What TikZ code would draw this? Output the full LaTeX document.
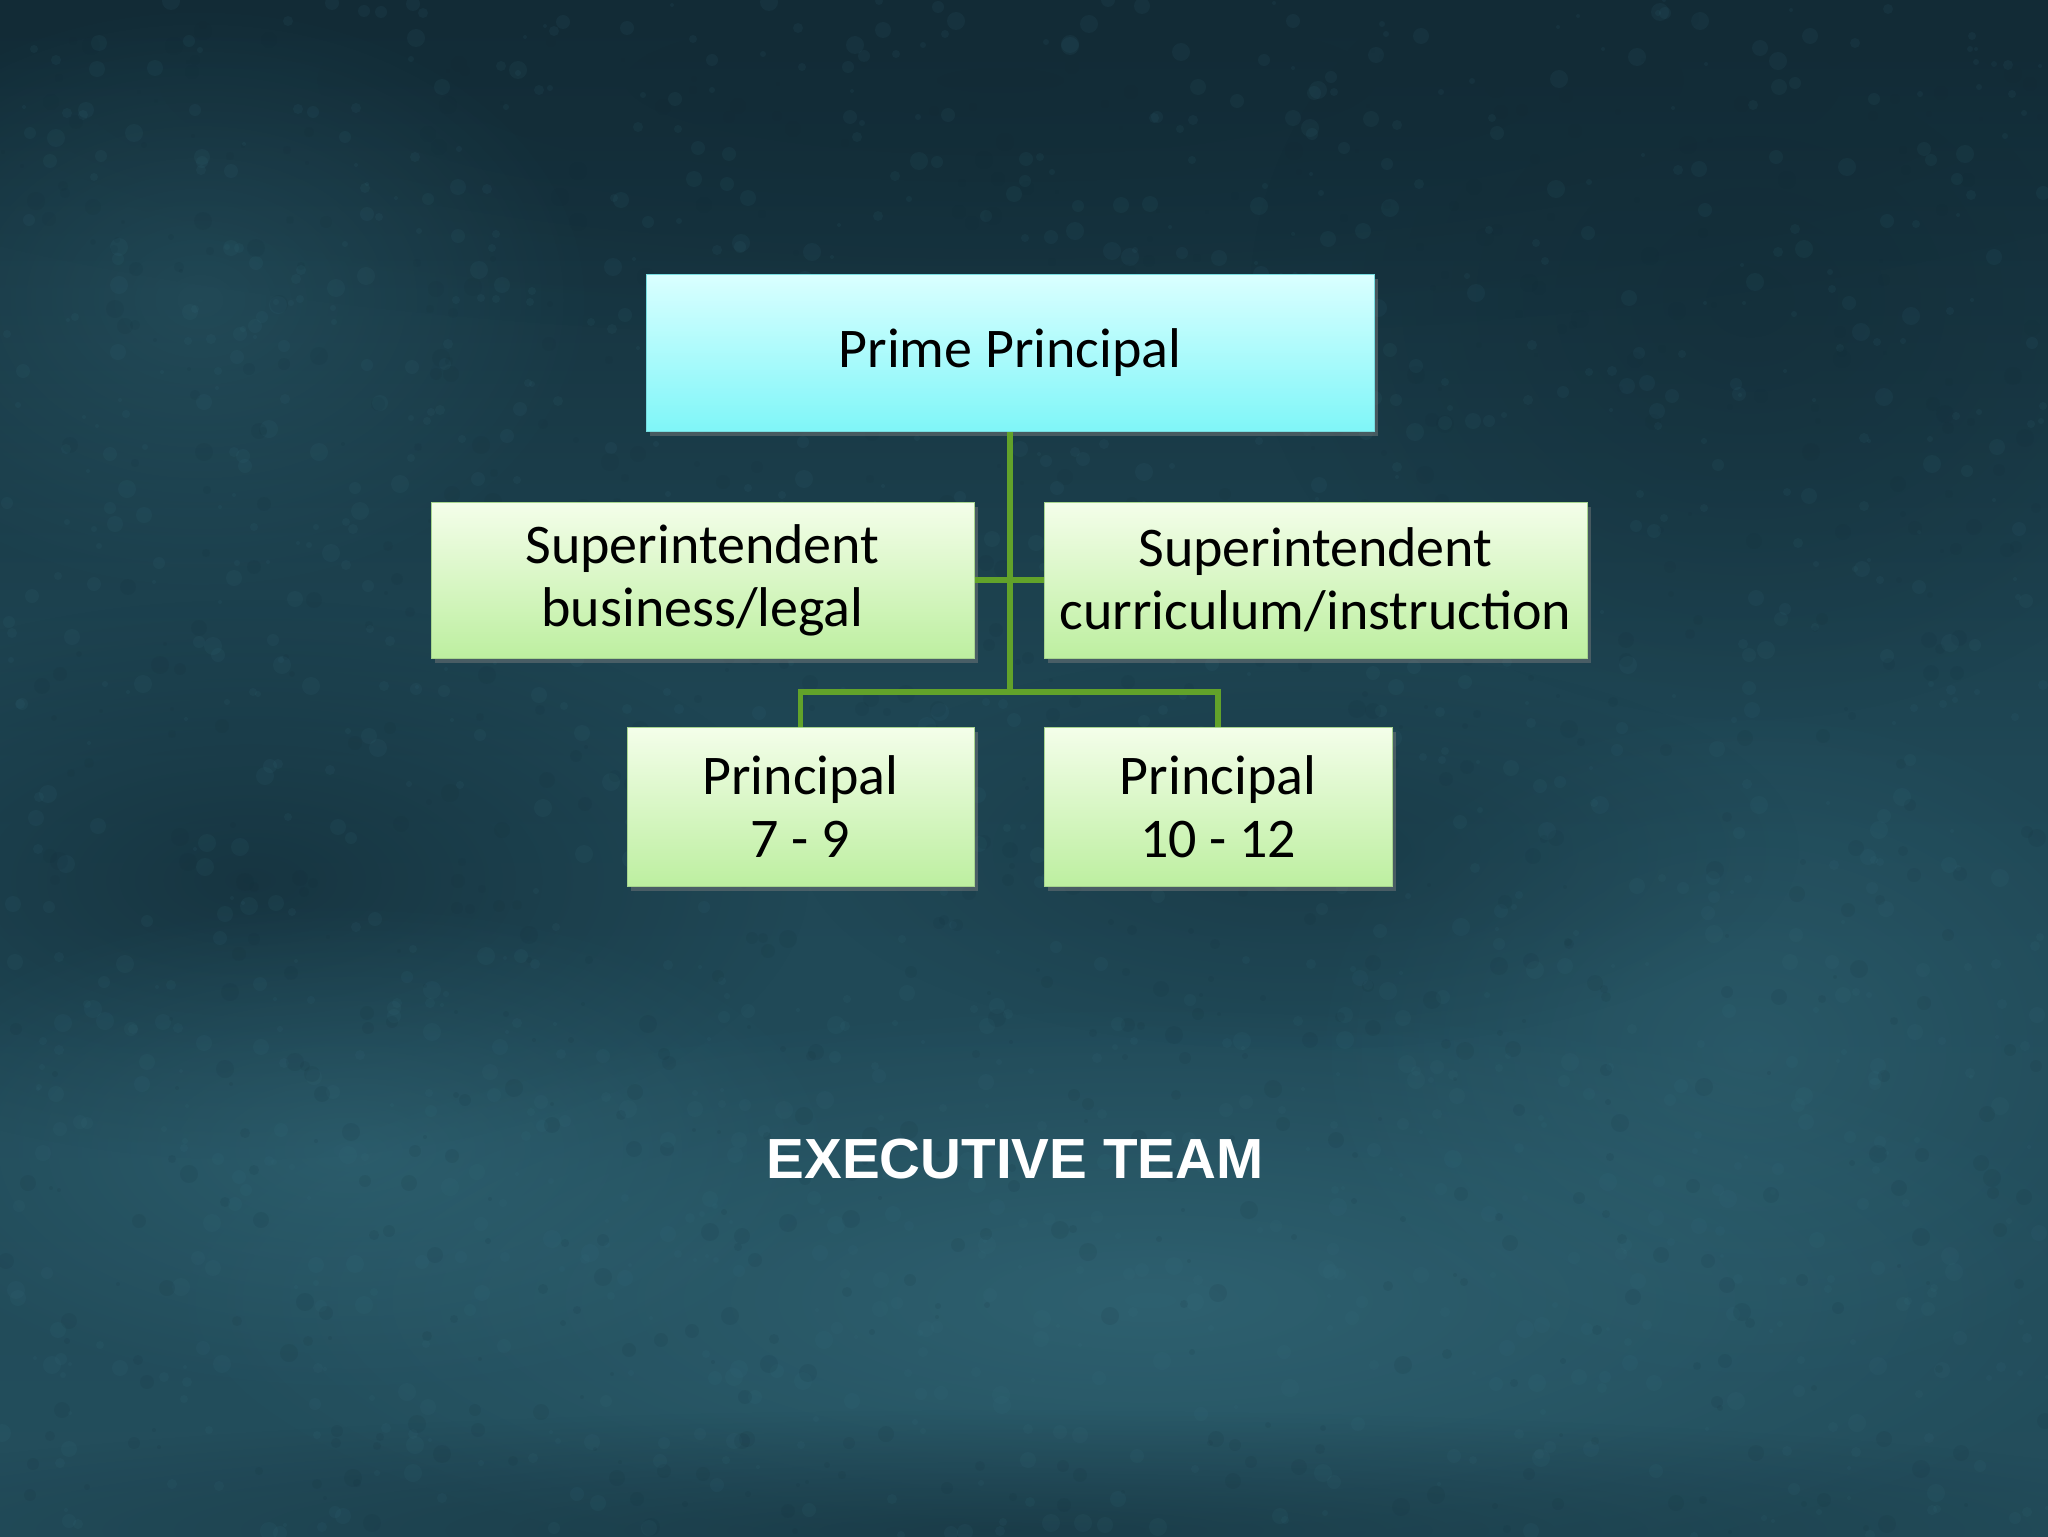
\documentclass[tikz,border=0pt]{standalone}
\usepackage{fontspec}
\setmainfont{Carlito}
\newfontfamily\titlefont{Liberation Sans}
\usetikzlibrary{shadows,fadings}
\tikzfading[name=softblob, inner color=transparent!0, outer color=transparent!100]
\definecolor{bgbase}{HTML}{1F4755}
\definecolor{bgdark}{HTML}{122B36}
\definecolor{bglight}{HTML}{3A7585}
\definecolor{cyantop}{HTML}{DAFFFF}
\definecolor{cyanbot}{HTML}{7FF6F8}
\definecolor{greentop}{HTML}{F4FEEA}
\definecolor{greenbot}{HTML}{BDEFA0}
\definecolor{linkgreen}{HTML}{62A22A}
\definecolor{greenedge}{HTML}{A6D48E}
\definecolor{cyanedge}{HTML}{76DCE0}
\tikzset{
  boxbase/.style={rectangle, inner sep=0pt, align=center, text=black,
    font=\fontsize{28}{31.4}\selectfont,
    drop shadow={opacity=0.45, shadow xshift=2pt, shadow yshift=-2.5pt}},
  primebox/.style={boxbase, draw=cyanedge, line width=0.5pt,
    top color=cyantop, bottom color=cyanbot},
  greenbox/.style={boxbase, draw=greenedge, line width=0.5pt,
    top color=greentop, bottom color=greenbot},
  link/.style={draw=linkgreen, line width=2.6pt},
  blob/.style={path fading=softblob}
}
\begin{document}
\begin{tikzpicture}[x=0.5pt,y=-0.5pt]
\useasboundingbox (0,0) rectangle (2048,1536);
% background
\shade[top color=bgdark, bottom color=bgbase!85!bglight, middle color=bgbase] (0,0) rectangle (2048,1536);
\fill[bgdark, opacity=0.7, blob] (1000,80) ellipse (1300 and 260);
\fill[bgdark, opacity=0.55, blob] (1750,300) ellipse (500 and 420);
\fill[bgdark, opacity=0.65, blob] (250,880) ellipse (560 and 280);
\fill[bglight, opacity=0.5, blob] (1150,1300) ellipse (1000 and 300);
\fill[bglight, opacity=0.4, blob] (350,1150) ellipse (500 and 250);
\fill[bglight, opacity=0.35, blob] (1750,1050) ellipse (450 and 350);
\fill[bglight, opacity=0.3, blob] (200,300) ellipse (400 and 300);
\fill[bgdark, opacity=0.55, blob] (1000,1530) ellipse (1300 and 120);
\fill[bgdark, opacity=0.4, blob] (1300,850) ellipse (500 and 200);
% texture specks
\pgfmathsetseed{7}
\foreach \i in {1,...,1400}{
  \pgfmathsetmacro{\px}{random(0,2048)}
  \pgfmathsetmacro{\py}{random(0,1536)}
  \pgfmathsetmacro{\pr}{random(2,9)}
  \fill[bglight, opacity=0.10] (\px,\py) circle (\pr);
}
\foreach \i in {1,...,900}{
  \pgfmathsetmacro{\px}{random(0,2048)}
  \pgfmathsetmacro{\py}{random(0,1536)}
  \pgfmathsetmacro{\pr}{random(2,9)}
  \fill[bgdark, opacity=0.10] (\px,\py) circle (\pr);
}
% nodes
\node[primebox, minimum width=364pt, minimum height=78.5pt] (prime) at (1010,352.5) {Prime Principal};
\node[greenbox, minimum width=271.5pt, minimum height=78pt] (supl) at (702.5,580) {Superintendent\\business/legal};
\node[greenbox, minimum width=271.5pt, minimum height=78pt] (supr) at (1315.5,580) {Superintendent\\curriculum/instruction};
\node[greenbox, minimum width=173.5pt, minimum height=79.5pt] (p79) at (800.5,806.5) {Principal\\7 - 9};
\node[greenbox, minimum width=174pt, minimum height=79.5pt] (p1012) at (1218,806.5) {Principal\\10 - 12};
\coordinate (junc) at (1010,692);
% connectors
\draw[link] (prime.south) -- (junc);
\draw[link] (supl.east) -- (supr.west);
\draw[link] (p79.north) |- (junc) -| (p1012.north);
% title
\node[inner sep=0pt, text=white, font=\titlefont\bfseries\fontsize{28.3}{34}\selectfont] (title) at (1015,1159) {EXECUTIVE TEAM};
\end{tikzpicture}
\end{document}
